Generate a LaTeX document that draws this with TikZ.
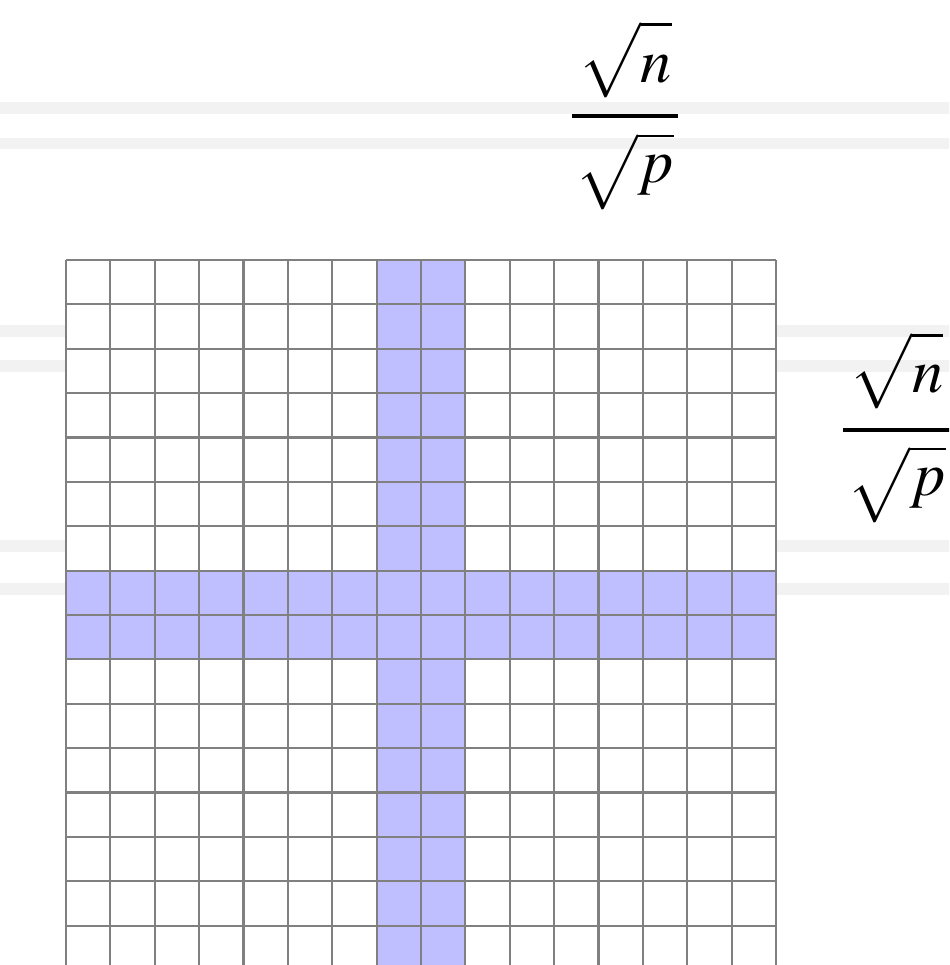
\documentclass[tikz,border=0pt]{standalone}
\usepackage{mathptmx}
\usepackage{tikz}
\usetikzlibrary{positioning}

\begin{document}
\begin{tikzpicture}[every node/.style={outer sep=0pt,inner sep=0pt}]

	\tikzstyle{band}=[line width=7.5pt,draw=black!5]
	\tikzstyle{gridline}=[line width=1.4pt,draw=black!50]
	\tikzstyle{hilite}=[fill=blue!25,draw=none]
	\tikzstyle{fracbar}=[fill=black,minimum width=2.41cm,minimum height=2.6pt]
	\tikzstyle{blocksize}=[font=\fontsize{40}{48}\selectfont,anchor=base]

	% same surd for both roots, letter raised by #2
	\newcommand{\blockroot}[2]{$\displaystyle\sqrt{\rule[-0.2em]{0pt}{0.9em}\smash{\raisebox{#2}{$#1$}}}$}

	\clip (-1.487,5.859) rectangle (19.899,-15.887);

	% faint slide background
	\draw [band] (-1.5,3.425) -- (20,3.425);
	\draw [band] (-1.5,2.625) -- (20,2.625);
	\draw [band] (-1.5,-1.6) -- (20,-1.6);
	\draw [band] (-1.5,-2.39) -- (20,-2.39);
	\draw [band] (-1.5,-6.445) -- (20,-6.445);
	\draw [band] (-1.5,-7.414) -- (20,-7.414);

	% processor grid
	\fill [white] (0,0) rectangle (16,-16);
	\fill [hilite] (7,0) rectangle (9,-16);
	\fill [hilite] (0,-7) rectangle (16,-9);
	\draw [gridline,step=1] (0,-16) grid (16,0);

	% block width above the grid
	\node (colbar) at (12.597,3.245) [fracbar] {};
	\node (colnum) [above=0.72cm of colbar,blocksize] {\blockroot{n}{0pt}};
	\node (colden) [below=1.70cm of colbar,blocksize] {\blockroot{p}{0.18em}};

	% block height right of the grid
	\node (rowbar) at (18.716,-3.831) [fracbar] {};
	\node (rownum) [above=0.79cm of rowbar,blocksize] {\blockroot{n}{0pt}};
	\node (rowden) [below=1.68cm of rowbar,blocksize] {\blockroot{p}{0.18em}};

\end{tikzpicture}
\end{document}
